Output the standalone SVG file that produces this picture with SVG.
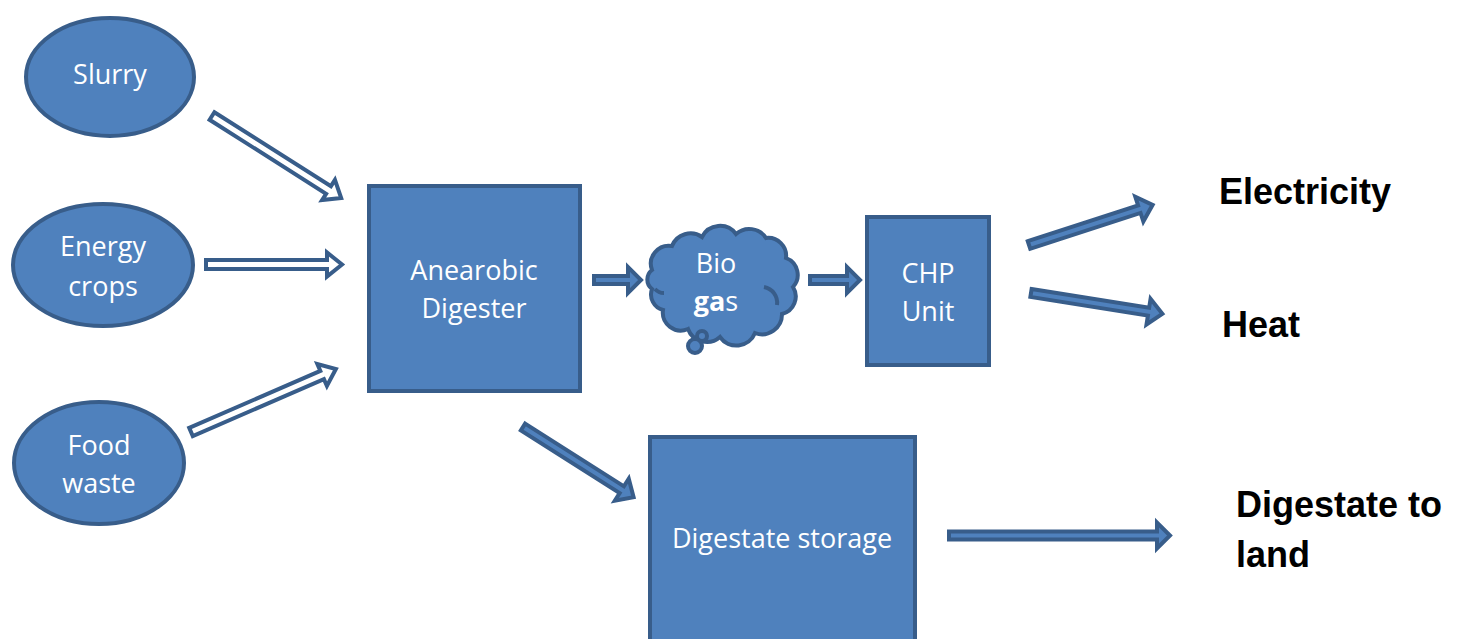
<svg xmlns="http://www.w3.org/2000/svg" width="1461" height="639" viewBox="0 0 1461 639">
<style>
.node{fill:#4F81BD;stroke:#385D8A;stroke-width:4}
.lbl{font-family:"Open Sans","Noto Sans",sans-serif;font-size:27px;fill:#fff;text-anchor:middle}
.out{font-family:"Liberation Sans",Arial,sans-serif;font-size:36px;font-weight:bold;fill:#000}
.wa{fill:#fff;stroke:#385D8A;stroke-width:4;stroke-linejoin:miter}
.ba{fill:#4F81BD;stroke:#385D8A;stroke-width:4;stroke-linejoin:miter}
.det{fill:none;stroke:#385D8A;stroke-width:4}
</style>
<rect width="1461" height="639" fill="#fff"/>
<g id="connectors">
<path class="wa" transform="translate(212,116) rotate(32.4)" d="M0,-4.5 L138,-4.5 L138,-12 L153,0 L138,12 L138,4.5 L0,4.5 Z"/>
<path class="wa" transform="translate(206,264.5) rotate(0)" d="M0,-4.5 L121,-4.5 L121,-12 L136,0 L121,12 L121,4.5 L0,4.5 Z"/>
<path class="wa" transform="translate(191,432) rotate(-23.5)" d="M0,-4.5 L143,-4.5 L143,-12 L158,0 L143,12 L143,4.5 L0,4.5 Z"/>
<path class="ba" transform="translate(594,280)" d="M0,-4 L34,-4 L34,-13 L47,0 L34,13 L34,4 L0,4 Z"/>
<path class="ba" transform="translate(810,280)" d="M0,-4 L37,-4 L37,-13 L50,0 L37,13 L37,4 L0,4 Z"/>
<path class="ba" transform="translate(1029,245) rotate(-18)" d="M0,-4 L116,-4 L116,-13 L130,0 L116,13 L116,4 L0,4 Z"/>
<path class="ba" transform="translate(1031,293) rotate(9)" d="M0,-4 L119,-4 L119,-13 L133,0 L119,13 L119,4 L0,4 Z"/>
<path class="ba" transform="translate(523,427) rotate(32.4)" d="M0,-4 L117,-4 L117,-13 L131,0 L117,13 L117,4 L0,4 Z"/>
<path class="ba" transform="translate(949,535.5)" d="M0,-4 L208,-4 L208,-13 L221,0 L208,13 L208,4 L0,4 Z"/>
</g>
<g id="slurry">
<ellipse class="node" cx="110" cy="77" rx="84" ry="59"/>
<text class="lbl" x="110" y="84">Slurry</text>
</g>
<g id="energy-crops">
<ellipse class="node" cx="103" cy="265" rx="90" ry="61"/>
<text class="lbl" x="103" y="256">Energy</text>
<text class="lbl" x="103" y="296">crops</text>
</g>
<g id="food-waste">
<ellipse class="node" cx="99" cy="463" rx="85" ry="61"/>
<text class="lbl" x="99" y="455">Food</text>
<text class="lbl" x="99" y="493">waste</text>
</g>
<g id="digester">
<rect class="node" x="369" y="186" width="211" height="205"/>
<text class="lbl" x="474" y="280">Anearobic</text>
<text class="lbl" x="474" y="318">Digester</text>
</g>
<g id="biogas">
<path class="node" d="M652,270 A18,18 0 0 1 672,246 A20,20 0 0 1 702,237 A20,20 0 0 1 736,234 A20,20 0 0 1 766,238 A18,18 0 0 1 786,258 A18,18 0 0 1 793,287 A18,18 0 0 1 782,314 A20,20 0 0 1 755,333 A20,20 0 0 1 720,337 A20,20 0 0 1 688,329 A18,18 0 0 1 663,310 A16,16 0 0 1 652,289 A12,12 0 0 1 652,270 Z"/>
<path class="det" d="M764,287 A16,16 0 0 1 777,305"/>
<path class="det" d="M655,289 A12,12 0 0 0 664,293"/>
<circle class="node" cx="702" cy="336" r="5"/>
<circle class="node" cx="695" cy="346" r="7"/>
<text class="lbl" x="716" y="273">Bio</text>
<text class="lbl" x="716" y="311"><tspan font-weight="bold">ga</tspan>s</text>
</g>
<g id="chp">
<rect class="node" x="867" y="217" width="122" height="148"/>
<text class="lbl" x="928" y="283">CHP</text>
<text class="lbl" x="928" y="321">Unit</text>
</g>
<g id="storage">
<rect class="node" x="650" y="437" width="265" height="212"/>
<text class="lbl" x="782" y="548">Digestate storage</text>
</g>
<g id="outputs">
<text class="out" x="1219" y="204">Electricity</text>
<text class="out" x="1222" y="337">Heat</text>
<text class="out" x="1236" y="517">Digestate to</text>
<text class="out" x="1236" y="567">land</text>
</g>
</svg>
